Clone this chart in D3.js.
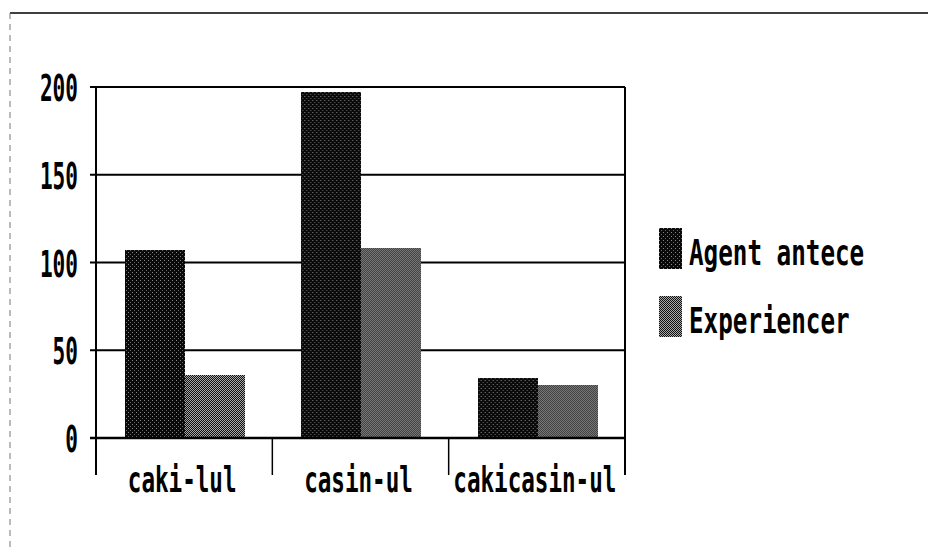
<!DOCTYPE html>
<html>
<head>
<meta charset="utf-8">
<script src="https://cdn.jsdelivr.net/npm/d3@7"></script>
<style>
  html, body { margin: 0; padding: 0; background: #fff; }
  text { font-family: "DejaVu Sans Mono", "Liberation Mono", monospace; fill: #000; font-weight: bold; }
</style>
</head>
<body>
<div id="chart"></div>
<script>
// data
var categories = ["caki-lul", "casin-ul", "cakicasin-ul"];
var seriesNames = ["Agent antece", "Experiencer"];
var agentValues = [107, 197, 34];
var experiencerValues = [36, 108, 30];
var yTicks = [0, 50, 100, 150, 200];

var width = 928, height = 549;
var plot = { left: 96, right: 625, top: 87, bottom: 438, below: 475 };

var svg = d3.select("#chart").append("svg")
    .attr("width", width)
    .attr("height", height);

// dither-like fills, like the scan
var defs = svg.append("defs");
var pAgent = defs.append("pattern")
    .attr("id", "fillAgent")
    .attr("patternUnits", "userSpaceOnUse")
    .attr("width", 4).attr("height", 4);
pAgent.append("rect").attr("width", 4).attr("height", 4).attr("fill", "#0a0a0a");
pAgent.append("rect").attr("x", 0).attr("y", 0).attr("width", 1).attr("height", 1).attr("fill", "#888");
pAgent.append("rect").attr("x", 2).attr("y", 2).attr("width", 1).attr("height", 1).attr("fill", "#666");

var pExp = defs.append("pattern")
    .attr("id", "fillExp")
    .attr("patternUnits", "userSpaceOnUse")
    .attr("width", 2).attr("height", 2);
pExp.append("rect").attr("width", 2).attr("height", 2).attr("fill", "#111");
pExp.append("rect").attr("x", 0).attr("y", 0).attr("width", 1).attr("height", 1).attr("fill", "#a8a8a8");
pExp.append("rect").attr("x", 1).attr("y", 1).attr("width", 1).attr("height", 1).attr("fill", "#a8a8a8");

var fills = { "Agent antece": "url(#fillAgent)", "Experiencer": "url(#fillExp)" };

// page frame
svg.append("line")
    .attr("x1", 10).attr("x2", width).attr("y1", 13).attr("y2", 13)
    .attr("stroke", "#000").attr("stroke-width", 1.5);
svg.append("line")
    .attr("x1", 10).attr("x2", 10).attr("y1", 13).attr("y2", height)
    .attr("stroke", "#777").attr("stroke-width", 1)
    .attr("stroke-dasharray", "6,5");

// scales
var x = d3.scaleBand()
    .domain(categories)
    .range([plot.left, plot.right]);

var xSub = d3.scaleBand()
    .domain(seriesNames)
    .range([x.bandwidth() * 0.165, x.bandwidth() * 0.845]);

var y = d3.scaleLinear()
    .domain([0, 200])
    .range([plot.bottom, plot.top]);

// gridlines
svg.append("g").selectAll("line")
    .data(yTicks)
    .enter().append("line")
    .attr("x1", plot.left - 6)
    .attr("x2", plot.right)
    .attr("y1", function (d) { return y(d); })
    .attr("y2", function (d) { return y(d); })
    .attr("stroke", "#000")
    .attr("stroke-width", 2);

// bars
var rows = categories.map(function (c, i) {
    return [
        { cat: c, series: seriesNames[0], value: agentValues[i] },
        { cat: c, series: seriesNames[1], value: experiencerValues[i] }
    ];
});

svg.append("g").selectAll("g")
    .data(rows)
    .enter().append("g")
    .attr("transform", function (d) { return "translate(" + x(d[0].cat) + ",0)"; })
    .selectAll("rect")
    .data(function (d) { return d; })
    .enter().append("rect")
    .attr("x", function (d) { return Math.round(xSub(d.series)); })
    .attr("width", Math.round(xSub.bandwidth()))
    .attr("y", function (d) { return Math.round(y(d.value)); })
    .attr("height", function (d) { return Math.round(y(0)) - Math.round(y(d.value)); })
    .attr("fill", function (d) { return fills[d.series]; })
    .attr("shape-rendering", "crispEdges");

// zero line over bars
svg.append("line")
    .attr("x1", plot.left - 6).attr("x2", plot.right)
    .attr("y1", y(0)).attr("y2", y(0))
    .attr("stroke", "#000").attr("stroke-width", 2.5);

// left axis and right frame
svg.append("line")
    .attr("x1", plot.left).attr("x2", plot.left)
    .attr("y1", plot.top).attr("y2", plot.below)
    .attr("stroke", "#000").attr("stroke-width", 2);
svg.append("line")
    .attr("x1", plot.right).attr("x2", plot.right)
    .attr("y1", plot.top).attr("y2", plot.below)
    .attr("stroke", "#000").attr("stroke-width", 2);

// category separators
svg.append("g").selectAll("line")
    .data(categories.slice(1))
    .enter().append("line")
    .attr("x1", function (d) { return x(d); })
    .attr("x2", function (d) { return x(d); })
    .attr("y1", plot.bottom)
    .attr("y2", plot.below)
    .attr("stroke", "#000").attr("stroke-width", 1.5);

// narrow text: squeeze horizontally with a transform
function narrow(px, py, sx) {
    return "translate(" + px + "," + py + ") scale(" + sx + ",1)";
}

// y tick labels
svg.append("g").selectAll("text")
    .data(yTicks)
    .enter().append("text")
    .attr("transform", function (d) { return narrow(78, y(d) + 14, 0.555); })
    .attr("text-anchor", "end")
    .attr("font-size", "38px")
    .text(function (d) { return d; });

// category labels
svg.append("g").selectAll("text")
    .data(categories)
    .enter().append("text")
    .attr("transform", function (d) { return narrow(x(d) + x.bandwidth() / 2 - 2, 492, 0.645); })
    .attr("text-anchor", "middle")
    .attr("font-size", "35px")
    .text(function (d) { return d; });

// legend
var legend = svg.append("g").selectAll("g")
    .data(seriesNames)
    .enter().append("g")
    .attr("transform", function (d, i) { return "translate(659," + (228 + i * 68) + ")"; });

legend.append("rect")
    .attr("width", 23)
    .attr("height", 41)
    .attr("fill", function (d) { return fills[d]; })
    .attr("shape-rendering", "crispEdges");

legend.append("text")
    .attr("transform", narrow(30, 37, 0.693))
    .attr("font-size", "35px")
    .text(function (d) { return d; });
</script>
</body>
</html>
